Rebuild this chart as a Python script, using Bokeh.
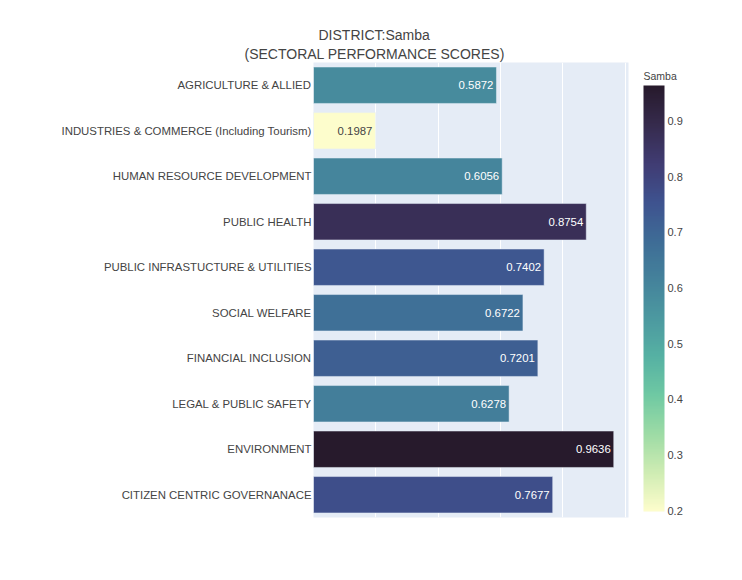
from bokeh.plotting import figure
from bokeh.models import (ColumnDataSource, FactorRange, Range1d, LinearColorMapper,
                          ColorBar, FixedTicker, LabelSet, Title)
from bokeh.core.properties import value
from bokeh.transform import transform
from bokeh.embed import file_html
from bokeh.resources import INLINE
import numpy as np

sectors = [
    "AGRICULTURE & ALLIED",
    "INDUSTRIES & COMMERCE (Including Tourism)",
    "HUMAN RESOURCE DEVELOPMENT",
    "PUBLIC HEALTH",
    "PUBLIC INFRASTUCTURE & UTILITIES",
    "SOCIAL WELFARE",
    "FINANCIAL INCLUSION",
    "LEGAL & PUBLIC SAFETY",
    "ENVIRONMENT",
    "CITIZEN CENTRIC GOVERNANACE",
]
scores = [0.5872, 0.1987, 0.6056, 0.8754, 0.7402, 0.6722, 0.7201, 0.6278, 0.9636, 0.7677]
score_labels = ["0.5872", "0.1987", "0.6056", "0.8754", "0.7402", "0.6722", "0.7201", "0.6278", "0.9636", "0.7677"]
colorbar_ticks = [0.2, 0.3, 0.4, 0.5, 0.6, 0.7, 0.8, 0.9]
grid_ticks = [0.2, 0.4, 0.6, 0.8, 1.0]

# plotly "deep" colorscale stops
deep = [(253, 253, 204), (206, 236, 179), (156, 219, 165), (111, 201, 163), (86, 177, 163),
        (76, 153, 160), (68, 130, 155), (62, 108, 150), (62, 82, 143), (64, 60, 115),
        (54, 43, 77), (39, 26, 44)]
def interp_palette(stops, n=256):
    arr = np.array(stops, dtype=float)
    xs = np.linspace(0, 1, len(stops))
    t = np.linspace(0, 1, n)
    out = []
    for v in t:
        r = np.interp(v, xs, arr[:, 0]); g = np.interp(v, xs, arr[:, 1]); b = np.interp(v, xs, arr[:, 2])
        out.append("#%02x%02x%02x" % (int(round(r)), int(round(g)), int(round(b))))
    return out
palette = interp_palette(deep)

mapper = LinearColorMapper(palette=palette, low=min(scores), high=max(scores))

text_colors = ["#444444" if s < 0.35 else "white" for s in scores]
src = ColumnDataSource(dict(sector=sectors, score=scores, lab=score_labels, tc=text_colors))

FONT = "Liberation Sans"

p = figure(width=734, height=572, output_backend="svg", toolbar_location=None,
           y_range=FactorRange(factors=list(reversed(sectors)), range_padding=0),
           x_range=Range1d(0, 1.011),
           min_border_left=313, min_border_right=106, min_border_top=62, min_border_bottom=55)
p.background_fill_color = "#E5ECF6"
p.border_fill_color = "white"
p.outline_line_color = None

p.hbar(y="sector", right="score", left=0, height=0.8, source=src,
       fill_color=transform("score", mapper), line_color="#E5ECF6", line_width=0.5)

p.add_layout(LabelSet(x="score", y="sector", text="lab", source=src, x_offset=-3,
                      text_align="right", text_baseline="middle", text_color="tc",
                      text_font=value(FONT), text_font_size="11.4px"))

p.xaxis.visible = False
p.xgrid.ticker = FixedTicker(ticks=grid_ticks)
p.xgrid.grid_line_color = "white"
p.xgrid.grid_line_width = 1
p.ygrid.grid_line_color = None

ya = p.yaxis[0]
ya.axis_line_color = None
ya.major_tick_line_color = None
ya.minor_tick_line_color = None
ya.major_tick_out = 0
ya.major_tick_in = 0
ya.major_label_standoff = 2
ya.major_label_text_font = FONT
ya.major_label_text_font_size = "11.4px"
ya.major_label_text_color = "#444444"

cb = ColorBar(color_mapper=mapper, ticker=FixedTicker(ticks=colorbar_ticks),
              width=21, height=426, location=(330, 6), padding=0, margin=0,
              major_label_text_font=FONT, major_label_text_font_size="11px",
              major_label_text_color="#444444", major_tick_line_color=None,
              minor_tick_line_color=None, bar_line_color=None, label_standoff=3,
              background_fill_color=None, border_line_color=None)
p.add_layout(cb)

# horizontal, invisible bar used only to carry the colour bar's heading "Samba"
cb_title = ColorBar(color_mapper=mapper, orientation="horizontal", width=40, height=1,
                    scale_alpha=0, ticker=FixedTicker(ticks=[]), location=(330, 434),
                    padding=0, margin=0, title="Samba", title_text_font=FONT,
                    title_text_font_size="10.5px", title_text_color="#444444",
                    title_text_font_style="normal", title_standoff=2,
                    major_tick_line_color=None, minor_tick_line_color=None,
                    bar_line_color=None, background_fill_color=None, border_line_color=None)
p.add_layout(cb_title)

t2 = Title(text="(SECTORAL PERFORMANCE SCORES)", align="left", offset=-69,
           text_font=FONT, text_font_size="14px", text_font_style="normal",
           text_color="#444444", standoff=2)
t1 = Title(text="DISTRICT:Samba", align="left", offset=5,
           text_font=FONT, text_font_size="14px", text_font_style="normal",
           text_color="#444444", standoff=0)
p.add_layout(t2, "above")
p.add_layout(t1, "above")

open("out.html", "w").write(file_html(p, INLINE))
